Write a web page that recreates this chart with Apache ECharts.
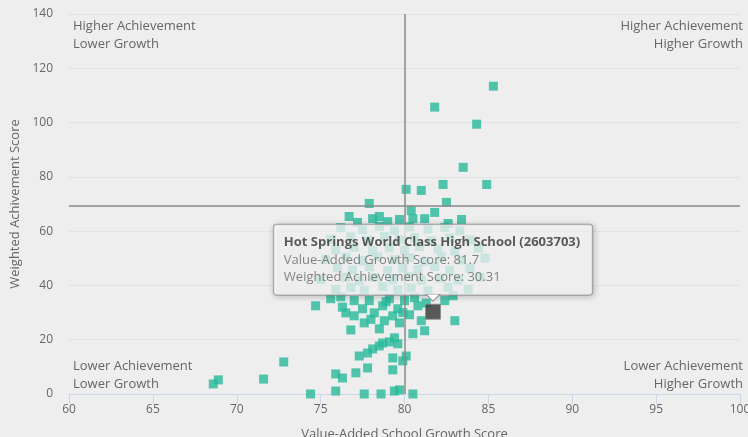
<!DOCTYPE html>
<html>
<head>
<meta charset="utf-8">
<script src="https://cdn.jsdelivr.net/npm/echarts@6/dist/echarts.min.js"></script>
<style>
html,body{margin:0;padding:0;background:#eeeeee;}
#c{width:748px;height:437px;}
</style>
</head>
<body>
<div id="c"></div>
<script>
// Value-Added School Growth Score (x) for each school
var growthScores = [
  85.3,81.8,84.3,83.5,84.9,82.3,81.0,80.1,82.5,77.9,81.8,80.4,76.7,77.2,78.1,78.5,79.0,79.7,80.5,81.2,82.6,83.4,
  76.2,77.5,78.5,79.4,80.3,81.4,82.4,83.3,
  75.6,76.8,77.8,78.8,79.7,80.6,81.6,82.7,83.9,
  75.9,77.0,78.1,79.1,80.0,80.9,82.0,83.0,84.4,
  75.3,76.5,77.5,78.4,79.4,80.3,81.2,82.2,83.4,84.8,
  76.0,76.9,77.9,79.0,79.9,80.8,81.8,82.7,83.9,
  75.0,76.5,77.3,78.2,79.3,80.2,81.0,82.1,83.2,84.5,
  75.9,76.8,77.6,78.7,79.6,80.4,81.4,82.6,83.8,
  74.7,75.6,76.5,76.8,77.6,78.5,76.2,77.0,77.5,77.9,78.2,78.7,79.1,79.3,79.6,80.0,80.3,80.8,81.0,78.8,79.7,77.0,80.5,81.2,82.4,83.0,82.9,
  78.0,79.9,78.9,80.6,81.3,76.3,
  78.7,79.1,79.6,78.5,78.1,77.8,77.3,79.3,80.1,79.9,77.8,77.1,79.3,75.9,76.3,74.4,75.9,77.6,78.6,79.4,79.7,80.5,72.8,71.6,68.9,68.6,79.4
];
// Weighted Achievement Score (y) for each school
var achievementScores = [
  113.4,105.7,99.4,83.5,77.2,77.2,75.0,75.4,70.6,70.2,66.9,67.6,65.4,63.2,64.6,65.4,63.5,64.3,64.6,64.6,62.8,64.3,
  61.3,60.5,61.8,60.2,61.6,60.8,61.4,60.1,
  57.0,57.9,56.6,58.0,56.9,57.7,56.4,57.5,56.8,
  53.2,54.1,52.8,53.9,53.0,54.3,53.4,52.6,53.8,
  49.6,50.4,49.1,50.6,49.5,50.2,48.9,50.5,49.3,50.1,
  46.5,45.7,46.9,45.5,46.4,45.9,47.0,45.6,46.3,
  42.2,43.0,41.8,42.9,42.1,43.3,41.9,42.7,42.0,43.1,
  38.5,39.3,38.2,39.6,38.4,39.1,38.0,39.4,38.6,
  32.5,35.1,29.9,23.6,26.2,24.0,35.8,34.4,31.4,34.4,29.9,32.5,35.1,28.8,31.4,34.4,29.2,32.5,27.0,27.0,26.2,28.8,22.2,23.3,34.4,27.0,36.2,
  27.5,30.0,34.0,35.5,33.5,32.0,
  18.8,19.2,18.5,17.7,16.6,15.1,14.0,13.3,14.0,12.2,9.6,7.8,8.9,7.4,5.9,0,1.1,0,0,1.1,1.5,0,11.8,5.5,5.2,3.7,20.7
];
// Highlighted school
var highlightName = "Hot Springs World Class High School (2603703)";
var highlightGrowth = 81.7;
var highlightAchievement = 30.31;
// Quadrant dividers
var growthDivider = 80;
var achievementDivider = 69.5;
// Axis ranges
var xTicks = [60, 65, 70, 75, 80, 85, 90, 95, 100];
var yTicks = [0, 20, 40, 60, 80, 100, 120, 140];
// Quadrant captions
var quadrantTopLeft = ['Higher Achievement', 'Lower Growth'];
var quadrantTopRight = ['Higher Achievement', 'Higher Growth'];
var quadrantBottomLeft = ['Lower Achievement', 'Lower Growth'];
var quadrantBottomRight = ['Lower Achievement', 'Higher Growth'];

var pts = growthScores.map(function (g, i) { return [g, achievementScores[i]]; });
var FONT = '"Open Sans"';

function caption(text, side, top) {
  var el = {type: 'text', top: top, style: {text: text, fill: '#666', font: '13px ' + FONT}};
  if (side === 'left') { el.left = 73; } else { el.right = 5; }
  return el;
}

var chart = echarts.init(document.getElementById('c'), null, {renderer: 'canvas'});
chart.setOption({
  backgroundColor: '#eeeeee',
  animation: false,
  textStyle: {fontFamily: FONT},
  grid: {left: 69, right: 8, top: 14, bottom: 43, containLabel: false, outerBoundsMode: 'none'},
  xAxis: {
    type: 'value', min: xTicks[0], max: xTicks[xTicks.length - 1], interval: 5,
    name: 'Value-Added School Growth Score', nameLocation: 'middle', nameGap: 34,
    nameTextStyle: {color: '#666', fontSize: 13, fontFamily: FONT},
    axisLine: {show: true, lineStyle: {color: '#ccd6eb', width: 1}},
    axisTick: {show: true, length: 10, lineStyle: {color: '#ccd6eb'}},
    axisLabel: {color: '#666', fontSize: 12, margin: 10, fontFamily: FONT},
    splitLine: {show: false}
  },
  yAxis: {
    type: 'value', min: yTicks[0], max: yTicks[yTicks.length - 1], interval: 20,
    name: 'Weighted Achivement Score', nameLocation: 'middle', nameGap: 47,
    nameTextStyle: {color: '#666', fontSize: 13, fontFamily: FONT},
    axisLine: {show: false}, axisTick: {show: false},
    axisLabel: {color: '#666', fontSize: 12, margin: 16, fontFamily: FONT},
    splitLine: {show: true, lineStyle: {color: '#e2e2e2', width: 1}}
  },
  series: [
    {
      type: 'scatter', symbol: 'rect', symbolSize: 9,
      itemStyle: {color: '#27b99a'},
      data: pts,
      markLine: {
        silent: true, symbol: 'none', animation: false,
        label: {show: false},
        lineStyle: {color: '#8a8a8a', width: 1.5, type: 'solid'},
        data: [{xAxis: growthDivider}, {yAxis: achievementDivider}]
      }
    },
    {
      type: 'scatter', symbol: 'rect', symbolSize: 15, z: 5,
      itemStyle: {color: '#333333', borderColor: '#888', borderWidth: 1},
      data: [[highlightGrowth, highlightAchievement]],
      markPoint: {
        silent: true, z: 20,
        symbol: 'path://M0,0L14,0L7,7Z', symbolSize: [14, 7], symbolOffset: [0, -14],
        itemStyle: {color: '#ffffff', borderColor: '#999', borderWidth: 1},
        label: {show: false},
        data: [{coord: [highlightGrowth, highlightAchievement]}]
      },
      label: {
        show: true, position: 'top', distance: 9,
        backgroundColor: 'rgba(255,255,255,0.9)', borderColor: '#999', borderWidth: 1, borderRadius: 3,
        padding: [9, 12, 9, 10],
        shadowColor: 'rgba(0,0,0,0.25)', shadowBlur: 6, shadowOffsetX: 1, shadowOffsetY: 1,
        formatter: function () {
          return '{t|' + highlightName + '}\n{v|Value-Added Growth Score: ' + highlightGrowth +
            '}\n{v|Weighted Achievement Score: ' + highlightAchievement + '}';
        },
        rich: {
          t: {fontSize: 13, fontWeight: 'bold', color: '#333', lineHeight: 18, fontFamily: FONT, align: 'left'},
          v: {fontSize: 13, color: '#666', lineHeight: 17, fontFamily: FONT, align: 'left'}
        }
      }
    }
  ],
  graphic: [
    caption(quadrantTopLeft[0], 'left', 20), caption(quadrantTopLeft[1], 'left', 38),
    caption(quadrantTopRight[0], 'right', 20), caption(quadrantTopRight[1], 'right', 38),
    caption(quadrantBottomLeft[0], 'left', 360), caption(quadrantBottomLeft[1], 'left', 378),
    caption(quadrantBottomRight[0], 'right', 360), caption(quadrantBottomRight[1], 'right', 378)
  ]
});
</script>
</body>
</html>
